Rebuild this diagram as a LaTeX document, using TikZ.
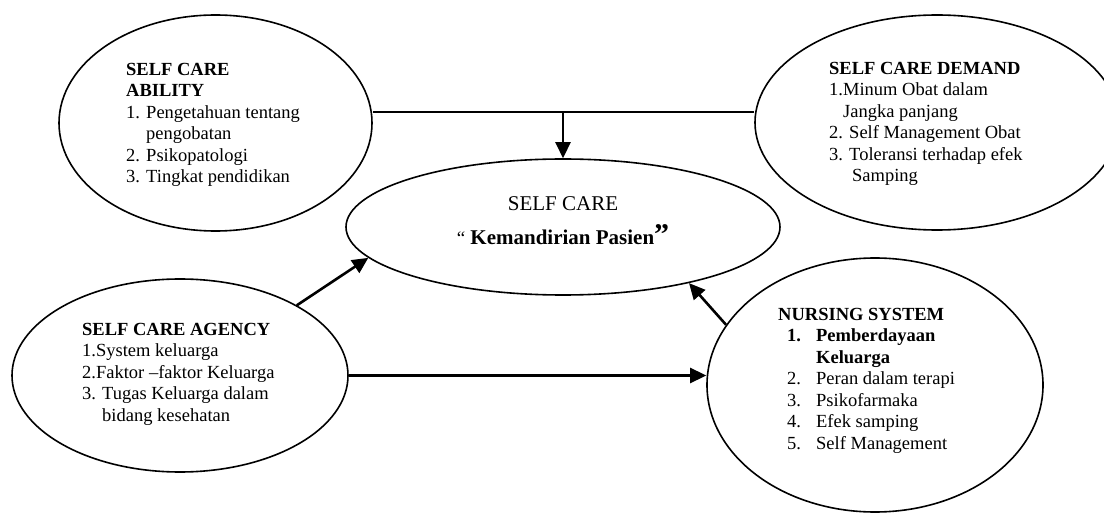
\documentclass[tikz,border=0pt]{standalone}
\usepackage{fontspec}
\setmainfont{Liberation Serif}
\usetikzlibrary{shapes.geometric,arrows.meta}
\begin{document}
\begin{tikzpicture}[x=1pt,y=-1pt,
  ell/.style={ellipse,draw,line width=1.6pt,inner sep=0pt},
  txt/.style={anchor=north west,inner sep=0pt,align=left,font={\fontsize{18.5}{21.5}\selectfont}},
  arr/.style={line width=2.6pt,-{Triangle[length=16pt,width=15pt]}},
  topline/.style={line width=1.5pt}]
\useasboundingbox (0,0) rectangle (1104,513);
% ellipses
\node[ell,minimum width=313pt,minimum height=216pt] (ability) at (215.5,123) {};
\node[ell,minimum width=364pt,minimum height=215pt] (demand) at (937,122.5) {};
\node[ell,minimum width=434pt,minimum height=136pt] (selfcare) at (563,227) {};
\node[ell,minimum width=336pt,minimum height=193pt] (agency) at (180,375.5) {};
\node[ell,minimum width=336pt,minimum height=254pt] (nursing) at (875,385) {};
% texts
\node[txt] (abilitytext) at (126,63) {\textbf{SELF CARE}\\\textbf{ABILITY}\\1. Pengetahuan tentang\\\hspace*{20pt}pengobatan\\2. Psikopatologi\\3. Tingkat pendidikan};
\node[txt] (demandtext) at (829,62) {\textbf{SELF CARE DEMAND}\\1.Minum Obat dalam\\\hspace*{14pt}Jangka panjang\\2. Self Management Obat\\3. Toleransi terhadap efek\\\hspace*{23pt}Samping};
\node[txt] (agencytext) at (82,323) {\textbf{SELF CARE AGENCY}\\1.System keluarga\\2.Faktor –faktor Keluarga\\3. Tugas Keluarga dalam\\\hspace*{20pt}bidang kesehatan};
\node[txt] (nursingtext) at (778,308) {\textbf{NURSING SYSTEM}\\
\hspace*{9pt}\makebox[29pt][l]{\textbf{1.}}\textbf{Pemberdayaan}\\
\hspace*{38pt}\textbf{Keluarga}\\
\hspace*{9pt}\makebox[29pt][l]{2.}Peran dalam terapi\\
\hspace*{9pt}\makebox[29pt][l]{3.}Psikofarmaka\\
\hspace*{9pt}\makebox[29pt][l]{4.}Efek samping\\
\hspace*{9pt}\makebox[29pt][l]{5.}Self Management};
\node[anchor=base,inner sep=0pt,font={\fontsize{21}{24}\selectfont}] (sctitle) at (563,211) {SELF CARE};
\node[anchor=base,inner sep=0pt,font={\fontsize{21}{24}\selectfont}] (scsub) at (563,245) {{\fontsize{19}{19}\selectfont “} \textbf{Kemandirian Pasien}{\fontsize{30}{30}\selectfont\bfseries ”}};
% connectors
\coordinate (j) at (563,112);
\draw[topline] (ability.east |- j) -- (demand.west |- j);
\draw[arr] (j) -- (selfcare.north);
\draw[arr] (agency.31) -- (selfcare.189);
\draw[arr] (nursing.158) -- (selfcare.336);
\draw[arr] (agency.east) -- (agency.east -| nursing.west);
\end{tikzpicture}
\end{document}
